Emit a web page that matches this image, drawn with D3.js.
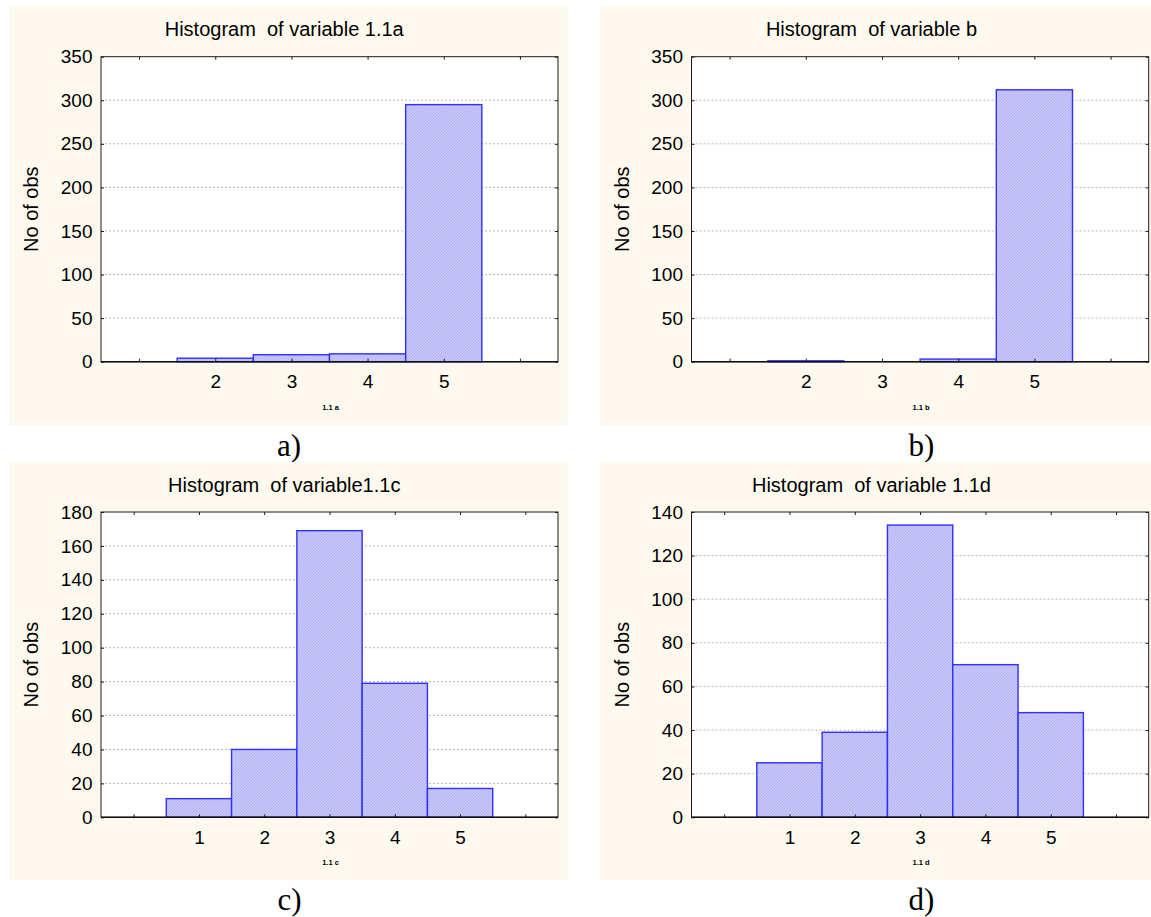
<!DOCTYPE html>
<html>
<head>
<meta charset="utf-8">
<script src="https://cdn.jsdelivr.net/npm/d3@7"></script>
<style>
  html, body { margin: 0; padding: 0; background: #ffffff; }
  svg { display: block; }
  text { font-family: "Liberation Sans", Arial, sans-serif; fill: #000; }
</style>
</head>
<body>
<svg id="chart" width="1151" height="917"></svg>
<script>
// ---- data ----
const categoriesAB = [2, 3, 4, 5];
const categoriesCD = [1, 2, 3, 4, 5];
const valuesA = [4, 8, 9, 295];
const valuesB = [1, 0, 3, 312];
const valuesC = [11, 40, 169, 79, 17];
const valuesD = [25, 39, 134, 70, 48];
const yTicksAB = [0, 50, 100, 150, 200, 250, 300, 350];
const yTicksC = [0, 20, 40, 60, 80, 100, 120, 140, 160, 180];
const yTicksD = [0, 20, 40, 60, 80, 100, 120, 140];
const xTicksAB = [1, 2, 3, 4, 5, 6];
const xTicksCD = [0, 1, 2, 3, 4, 5, 6];
const titles = ["Histogram  of variable 1.1a", "Histogram  of variable b", "Histogram  of variable1.1c", "Histogram  of variable 1.1d"];
const xLabels = ["1.1 a", "1.1 b", "1.1 c", "1.1 d"];
const captions = ["a)", "b)", "c)", "d)"];
const yLabel = "No of obs";

const svg = d3.select("#chart");

// hatched fill pattern
const defs = svg.append("defs");
const pat = defs.append("pattern")
  .attr("id", "hatch").attr("patternUnits", "userSpaceOnUse")
  .attr("width", 3).attr("height", 3);
pat.append("rect").attr("width", 3).attr("height", 3).attr("fill", "#c6c6fb");
pat.append("path").attr("d", "M-1,1 l2,-2 M0,3 l3,-3 M2,4 l2,-2")
  .attr("stroke", "#aeaef0").attr("stroke-width", 0.8);

const panels = [
  { bg: [9, 6, 567.5, 425], plot: [101, 56.7, 558, 361.7], cats: categoriesAB, vals: valuesA, yTicks: yTicksAB, xTicks: xTicksAB, xDom: [0.5, 6.5], title: titles[0], xl: xLabels[0], cap: captions[0], capX: 289, capY: 456 },
  { bg: [600, 6, 1151, 425], plot: [691.5, 56.7, 1148.7, 361.7], cats: categoriesAB, vals: valuesB, yTicks: yTicksAB, xTicks: xTicksAB, xDom: [0.5, 6.5], title: titles[1], xl: xLabels[1], cap: captions[1], capX: 921.5, capY: 456 },
  { bg: [9, 462, 567.5, 880], plot: [101, 512, 558, 817.3], cats: categoriesCD, vals: valuesC, yTicks: yTicksC, xTicks: xTicksCD, xDom: [-0.5, 6.5], title: titles[2], xl: xLabels[2], cap: captions[2], capX: 289.5, capY: 910 },
  { bg: [600, 462, 1151, 880], plot: [691.5, 512, 1148.7, 817.3], cats: categoriesCD, vals: valuesD, yTicks: yTicksD, xTicks: xTicksCD, xDom: [-0.5, 6.5], title: titles[3], xl: xLabels[3], cap: captions[3], capX: 921.5, capY: 910 }
];

panels.forEach(p => {
  const [bx0, by0, bx1, by1] = p.bg;
  const [px0, py0, px1, py1] = p.plot;
  const g = svg.append("g");

  g.append("rect").attr("x", bx0).attr("y", by0)
    .attr("width", bx1 - bx0).attr("height", by1 - by0)
    .attr("fill", "#fdf9ee");

  g.append("rect").attr("x", px0).attr("y", py0)
    .attr("width", px1 - px0).attr("height", py1 - py0)
    .attr("fill", "#ffffff");

  const x = d3.scaleLinear().domain(p.xDom).range([px0, px1]);
  const yMax = p.yTicks[p.yTicks.length - 1];
  const y = d3.scaleLinear().domain([0, yMax]).range([py1, py0]);

  // grid lines
  g.append("g").selectAll("line")
    .data(p.yTicks.filter(t => t > 0 && t < yMax))
    .join("line")
    .attr("x1", px0).attr("x2", px1)
    .attr("y1", d => y(d)).attr("y2", d => y(d))
    .attr("stroke", "#b8b8b8").attr("stroke-width", 1)
    .attr("stroke-dasharray", "2,2");

  // bars
  const data = p.cats.map((c, i) => ({ c, v: p.vals[i] })).filter(d => d.v > 0);
  g.append("g").selectAll("rect")
    .data(data)
    .join("rect")
    .attr("x", d => x(d.c - 0.5))
    .attr("width", d => x(d.c + 0.5) - x(d.c - 0.5))
    .attr("y", d => y(d.v))
    .attr("height", d => y(0) - y(d.v))
    .attr("fill", "url(#hatch)")
    .attr("stroke", "#2f2fff").attr("stroke-width", 1.4);

  // frame
  g.append("rect").attr("x", px0).attr("y", py0)
    .attr("width", px1 - px0).attr("height", py1 - py0)
    .attr("fill", "none").attr("stroke", "#1a1a1a").attr("stroke-width", 1);

  // axes
  const yAxis = d3.axisLeft(y).tickValues(p.yTicks).tickSizeInner(-3).tickSizeOuter(0).tickPadding(8.5);
  const ya = g.append("g").attr("transform", `translate(${px0},0)`).call(yAxis);
  const yAxisR = d3.axisRight(y).tickValues(p.yTicks).tickSizeInner(-3).tickSizeOuter(0).tickFormat("");
  const yr = g.append("g").attr("transform", `translate(${px1},0)`).call(yAxisR);

  const xAxis = d3.axisBottom(x).tickValues(p.xTicks).tickSizeInner(-3).tickSizeOuter(0).tickPadding(13.3)
    .tickFormat(d => p.cats.includes(d) ? String(d) : "");
  const xa = g.append("g").attr("transform", `translate(0,${py1})`).call(xAxis);
  const xAxisT = d3.axisTop(x).tickValues(p.xTicks).tickSizeInner(-3).tickSizeOuter(0).tickFormat("");
  const xt = g.append("g").attr("transform", `translate(0,${py0})`).call(xAxisT);

  [ya, yr, xa, xt].forEach(a => {
    a.select(".domain").remove();
    a.selectAll(".tick line").attr("stroke", "#1a1a1a");
    a.selectAll("text").attr("font-size", 19).attr("font-family", "'Liberation Sans', Arial, sans-serif").attr("fill", "#000");
  });

  // bottom axis line emphasised
  g.append("line").attr("x1", px0).attr("x2", px1).attr("y1", py1).attr("y2", py1)
    .attr("stroke", "#111").attr("stroke-width", 1.4);

  // title
  g.append("text").attr("x", (bx0 + bx1) / 2 - 4).attr("y", py0 - 20.5)
    .attr("text-anchor", "middle").attr("font-size", 20)
    .style("white-space", "pre").text(p.title);

  // y label
  g.append("text")
    .attr("transform", `translate(${px0 - 63},${(py0 + py1) / 2}) rotate(-90)`)
    .attr("text-anchor", "middle").attr("font-size", 20).text(yLabel);

  // x label
  g.append("text").attr("x", (px0 + px1) / 2 + 1).attr("y", py1 + 48)
    .attr("text-anchor", "middle").attr("font-size", 7.5).attr("font-weight", "bold").text(p.xl);

  // caption
  svg.append("text").attr("x", p.capX).attr("y", p.capY)
    .attr("text-anchor", "middle").attr("font-size", 31)
    .style("font-family", "'Liberation Serif', 'Times New Roman', serif")
    .text(p.cap);
});
</script>
</body>
</html>
